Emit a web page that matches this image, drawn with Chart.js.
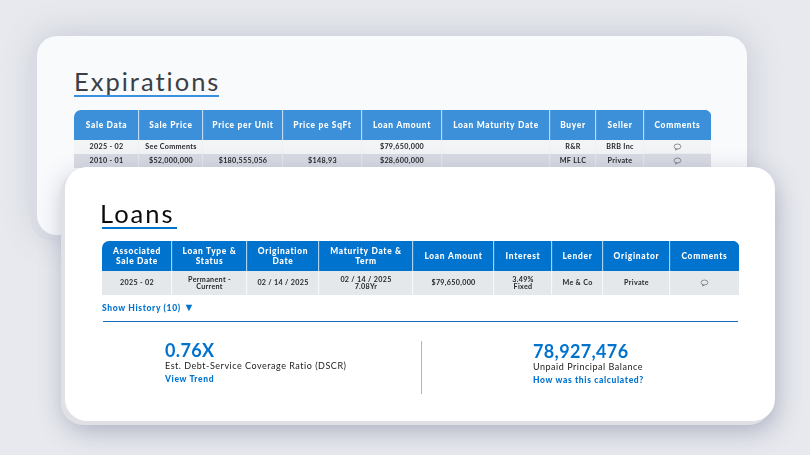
<!DOCTYPE html>
<html>
<head>
<meta charset="utf-8">
<script src="https://cdn.jsdelivr.net/npm/chart.js@4"></script>
<style>
  html, body { margin: 0; padding: 0; }
  body { width: 810px; height: 455px; overflow: hidden; position: relative; background: #e7e9ee; font-family: Lato, sans-serif; }
  .card { position: absolute; }
  #backCard { left: 37px; top: 36px; width: 710px; height: 199px; background: #f9fafc; border-radius: 20px;
    box-shadow: -6px 5px 0 #d9dce4, 0 0 34px rgba(105,110,140,.28); }
  #frontCard { left: 65px; top: 167px; width: 710px; height: 254px; background: #fff; border-radius: 22px;
    box-shadow: -4px 4px 0 #e0e1e4, 0 9px 26px rgba(80,85,125,.42); }
  canvas { position: absolute; display: block; }
  .abs { position: absolute; white-space: nowrap; line-height: 1; }
  .title { font-size: 25.5px; font-weight: 400; letter-spacing: 2px; }
  .rule { position: absolute; }
  .big { color: #0073cf; font-size: 18px; font-weight: 700; letter-spacing: .35px; }
  .sub { color: #1b1b1b; font-size: 9px; letter-spacing: .52px; }
  .link { color: #0073cf; font-size: 8.5px; font-weight: 900; letter-spacing: .65px; }
</style>
</head>
<body>
<div class="card" id="backCard"></div>
<div class="abs title" style="left:74px;top:69px;color:#3c3f44">Expirations</div>
<div class="rule" style="left:74px;top:95px;width:145px;height:2px;background:#3a90dc"></div>
<canvas id="expHead" style="left:74px;top:110px" width="637" height="30"></canvas>
<canvas id="expBody" style="left:74px;top:140px" width="637" height="28"></canvas>

<div class="card" id="frontCard"></div>
<div class="abs title" style="left:100px;top:201px;color:#0c0c0c">Loans</div>
<div class="rule" style="left:102px;top:227px;width:75px;height:2px;background:#0073cf"></div>
<canvas id="loanHead" style="left:102px;top:241px" width="637" height="30"></canvas>
<canvas id="loanBody" style="left:102px;top:271px" width="637" height="24"></canvas>
<div class="abs link" style="left:102px;top:303px">Show History (10) <span style="font-size:11px;line-height:8px">▼</span></div>
<div class="rule" style="left:103px;top:321px;width:635px;height:1px;background:#136cb5"></div>

<div class="abs big" style="left:165px;top:341px">0.76X</div>
<div class="abs sub" style="left:165px;top:361px">Est. Debt-Service Coverage Ratio (DSCR)</div>
<div class="abs link" style="left:165px;top:375px">View Trend</div>
<div class="rule" style="left:421px;top:341px;width:1px;height:53px;background:#b5b5b5"></div>
<div class="abs big" style="left:533px;top:342px">78,927,476</div>
<div class="abs sub" style="left:533px;top:362px">Unpaid Principal Balance</div>
<div class="abs link" style="left:533px;top:376px">How was this calculated?</div>

<script>
const COMMENT = '[c]'; // drawn as the little bubble icon

const expHeaders = ['Sale Data', 'Sale Price', 'Price per Unit', 'Price pe SqFt', 'Loan Amount', 'Loan Maturity Date', 'Buyer', 'Seller', 'Comments'];
const expRow1 = ['2025 - 02', 'See Comments', '', '', '$79,650,000', '', 'R&R', 'BRB Inc', COMMENT];
const expRow2 = ['2010 - 01', '$52,000,000', '$180,555,056', '$148,93', '$28,600,000', '', 'MF LLC', 'Private', COMMENT];

const loanHeaders = ['Associated\nSale Date', 'Loan Type &\nStatus', 'Origination\nDate', 'Maturity Date &\nTerm', 'Loan Amount', 'Interest', 'Lender', 'Originator', 'Comments'];
const loanRow1 = ['2025 - 02', 'Permanent -\nCurrent', '02 / 14 / 2025', '02 / 14 / 2025\n7.08Yr', '$79,650,000', '3.49%\nFixed', 'Me & Co', 'Private', COMMENT];

// column widths in px
const expWidths = [65, 64, 80, 79, 80, 108, 46, 48, 67];
const loanWidths = [70, 75, 72, 94, 81, 58, 51, 67, 69];

// writes the cell text on top of each stacked bar
const cellText = {
  id: 'cellText',
  afterDatasetsDraw(chart, args, opts) {
    const ctx = chart.ctx;
    ctx.save();
    ctx.textAlign = 'center';
    ctx.textBaseline = 'middle';
    ctx.font = opts.font;
    ctx.letterSpacing = opts.spacing;
    ctx.fillStyle = opts.color;
    opts.rows.forEach((row, r) => {
      row.forEach((text, c) => {
        const bar = chart.getDatasetMeta(c).data[r];
        const cx = (bar.x + bar.base) / 2;
        if (text === COMMENT) {
          ctx.strokeStyle = '#77797e';
          ctx.lineWidth = 0.8;
          ctx.beginPath();
          ctx.ellipse(cx, bar.y - 0.5, 3.4, 2.5, 0, 0, Math.PI * 2);
          ctx.moveTo(cx - 1.5, bar.y + 1.7);
          ctx.lineTo(cx - 2, bar.y + 3.2);
          ctx.lineTo(cx, bar.y + 1.9);
          ctx.stroke();
          return;
        }
        const lines = text.split('\n');
        lines.forEach((line, i) => {
          ctx.fillText(line, cx, bar.y + (i - (lines.length - 1) / 2) * opts.lineHeight);
        });
      });
    });
    ctx.restore();
  }
};

function tableChart(id, rows, widths, fills, sepColor, textOpts, roundTop) {
  const total = widths.reduce((a, b) => a + b, 0);
  const last = widths.length - 1;
  return new Chart(document.getElementById(id), {
    type: 'bar',
    plugins: [cellText],
    data: {
      labels: rows.map((r, i) => 'row ' + i),
      datasets: widths.map((w, c) => ({
        label: 'col ' + c,
        data: rows.map(() => w),
        backgroundColor: fills,
        borderColor: sepColor,
        borderWidth: c === last ? 0 : { right: 1 },
        borderSkipped: false,
        borderRadius: {
          topLeft: roundTop && c === 0 ? 7 : 0,
          bottomLeft: 0,
          topRight: roundTop && c === last ? 7 : 0,
          bottomRight: 0
        },
        barPercentage: 1,
        categoryPercentage: 1
      }))
    },
    options: {
      indexAxis: 'y',
      responsive: false,
      animation: false,
      events: [],
      layout: { padding: 0 },
      scales: {
        x: { stacked: true, display: false, min: 0, max: total },
        y: { stacked: true, display: false }
      },
      plugins: {
        legend: { display: false },
        tooltip: { enabled: false },
        cellText: Object.assign({ rows: rows }, textOpts)
      }
    }
  });
}

const headText = { font: '900 8.4px Lato', spacing: '0.7px', color: '#ffffff', lineHeight: 10 };
const bodyText = { font: '700 7.2px Lato', spacing: '0.3px', color: '#26282c', lineHeight: 7.5 };

tableChart('expHead', [expHeaders], expWidths, '#3b90d9', '#ffffff', headText, true);
tableChart('expBody', [expRow1, expRow2], expWidths, ['#f3f4f6', '#d9dbe3'], '#eceef2', bodyText, false);
tableChart('loanHead', [loanHeaders], loanWidths, '#0073cf', '#ffffff', headText, true);
tableChart('loanBody', [loanRow1], loanWidths, '#e5e8eb', '#ffffff', bodyText, false);
</script>
</body>
</html>
